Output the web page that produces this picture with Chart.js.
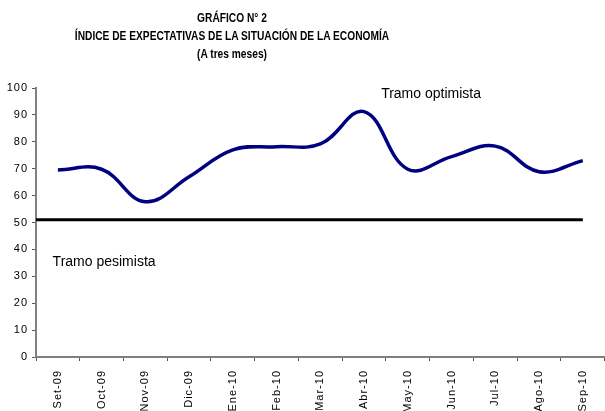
<!DOCTYPE html>
<html lang="es">
<head>
    <meta charset="UTF-8">
    <title>Gráfico N° 2</title>
    <script src="https://cdn.jsdelivr.net/npm/chart.js"></script>
    <style>
        body { margin: 0; background: #fff; }
        .wrap { position: relative; width: 605px; height: 411px; }
        .titulo {
            position: absolute; left: 0; top: 9px; width: 464px; text-align: center;
            font-family: "Liberation Sans Narrow", "Liberation Sans", Arial, sans-serif;
            font-weight: bold; font-size: 12px; line-height: 18px; color: #000;
            transform: scaleX(0.85); transform-origin: 232px 0;
        }
    </style>
</head>
<body>
<div class="wrap">
    <div class="titulo">
        GRÁFICO N° 2<br>
        ÍNDICE DE EXPECTATIVAS DE LA SITUACIÓN DE LA ECONOMÍA<br>
        (A tres meses)
    </div>
    <canvas id="grafico" width="605" height="411"></canvas>
</div>

<script>
    // Meses y valores del índice
    const meses = ['Set-09', 'Oct-09', 'Nov-09', 'Dic-09', 'Ene-10', 'Feb-10', 'Mar-10',
                   'Abr-10', 'May-10', 'Jun-10', 'Jul-10', 'Ago-10', 'Sep-10'];
    const indice = [69.5, 69.8, 57.7, 67, 77, 78.2, 79.2, 91.2, 69.8, 74.5, 78.4, 68.9, 73];

    // Línea que separa tramo optimista y pesimista (eje x auxiliar, -0.5 = borde del eje)
    const limite = [{ x: -0.5, y: 51 }, { x: 12, y: 51 }];

    // Textos de tramo: [texto, x (posición de mes), y (valor)]
    const tramos = [
        ['Tramo optimista', 7.39, 97.8],
        ['Tramo pesimista', -0.12, 35.3]
    ];

    // espaciado de letras en los ejes, como en el original
    const espaciado = {
        id: 'espaciado',
        beforeDraw(chart) { chart.ctx.letterSpacing = '1px'; },
        beforeDatasetsDraw(chart) { chart.ctx.letterSpacing = '0px'; }
    };

    const textoTramos = {
        id: 'textoTramos',
        afterDatasetsDraw(chart) {
            const ctx = chart.ctx;
            const x2 = chart.scales.x2, y = chart.scales.y;
            ctx.save();
            ctx.letterSpacing = '0px';
            ctx.font = '14px "Liberation Sans", Arial, sans-serif';
            ctx.fillStyle = '#000';
            ctx.textBaseline = 'middle';
            tramos.forEach(t => ctx.fillText(t[0], x2.getPixelForValue(t[1]), y.getPixelForValue(t[2])));
            ctx.restore();
        }
    };

    new Chart(document.getElementById('grafico'), {
        type: 'line',
        data: {
            labels: meses,
            datasets: [{
                data: indice,
                borderColor: '#000080',
                borderWidth: 3.5,
                pointRadius: 0,
                tension: 0.4,
                fill: false
            }, {
                data: limite,
                xAxisID: 'x2',
                borderColor: '#000',
                borderWidth: 3,
                pointRadius: 0,
                fill: false
            }]
        },
        options: {
            responsive: false,
            animation: false,
            layout: { padding: { top: 88, right: 0, left: 0, bottom: 0 } },
            plugins: { legend: { display: false }, tooltip: { enabled: false } },
            scales: {
                x: {
                    offset: true,
                    grid: { offset: true, drawOnChartArea: false, tickLength: 4, color: '#555', lineWidth: 1 },
                    border: { color: '#808080', width: 2 },
                    ticks: {
                        color: '#000', minRotation: 90, maxRotation: 90, padding: 9, autoSkip: false,
                        font: { family: '"Liberation Sans", Arial, sans-serif', size: 11 }
                    },
                    afterFit(s) { s.height = 54; }
                },
                x2: { type: 'linear', display: false, min: -0.5, max: 12.5 },
                y: {
                    min: 0, max: 100,
                    grid: { drawOnChartArea: false, tickLength: 4, color: '#555' },
                    border: { color: '#808080', width: 2 },
                    ticks: {
                        stepSize: 10, color: '#000', padding: 4,
                        font: { family: '"Liberation Sans", Arial, sans-serif', size: 11 }
                    },
                    afterFit(s) { s.width = 36; }
                }
            }
        },
        plugins: [espaciado, textoTramos]
    });
</script>
</body>
</html>
